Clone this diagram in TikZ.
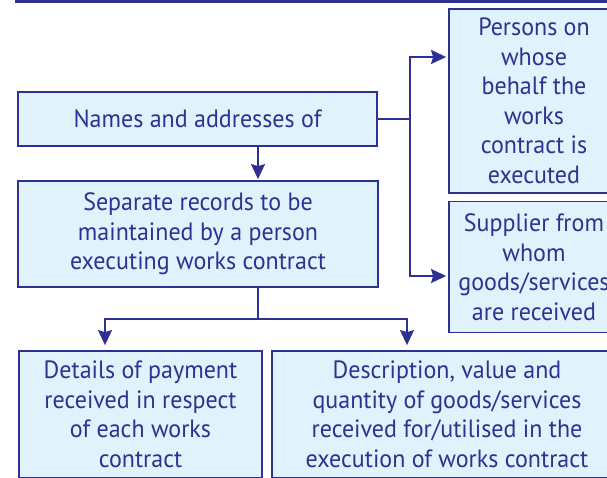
\documentclass[tikz,border=0pt]{standalone}
\usepackage{fontspec}
\setmainfont{PT Sans}[FakeStretch=0.96]
\usetikzlibrary{arrows.meta}
\definecolor{navy}{RGB}{46,49,146}
\definecolor{paleblue}{RGB}{224,242,251}

\begin{document}
\begin{tikzpicture}[x=1pt,y=-1pt,
  rec/.style={draw=navy,line width=1.8pt,fill=paleblue,text=navy,inner sep=0pt,align=center,font=\fontsize{25}{29.5}\selectfont},
  arr/.style={-{Stealth[length=15pt,width=14pt,inset=2pt]},draw=navy,line width=1.8pt},
  link/.style={draw=navy,line width=1.8pt}
]
\useasboundingbox (0,0) rectangle (607,477);
\clip (0,0) rectangle (607,477);
\fill[navy] (15,-3) rectangle (610,3);
\node[rec,minimum width=359pt,minimum height=54pt] (names) at (197.5,119) {Names and addresses of};
\node[rec,minimum width=360pt,minimum height=106pt] (sep) at (198,234) {Separate records to be\\maintained by a person\\executing works contract};
\node[rec,minimum width=170pt,minimum height=184pt] (persons) at (534,101) {Persons on\\whose\\behalf the\\works\\contract is\\executed};
\node[rec,minimum width=170pt,minimum height=131pt] (supplier) at (534,267) {Supplier from\\whom\\goods/services\\are received};
\node[rec,minimum width=243pt,minimum height=127pt] (details) at (140.5,414.5) {Details of payment\\received in respect\\of each works\\contract};
\node[rec,minimum width=350pt,minimum height=127pt] (descr) at (447,414.5) {Description, value and\\quantity of goods/services\\received for/utilised in the\\execution of works contract};
\coordinate (trunk) at (258,319);
\coordinate (lft) at (105,319);
\coordinate (rgt) at (407,319);
\coordinate (fork) at (410,119);
\coordinate (up) at (410,57);
\coordinate (down) at (410,276);
\draw[arr,shorten >=1pt] (names.south -| trunk) -- (sep.north -| trunk);
\draw[link] (sep.south -| trunk) -- (trunk);
\draw[arr,shorten >=5pt] (trunk) -- (lft) -- (details.north -| lft);
\draw[arr,shorten >=5pt] (trunk) -- (rgt) -- (descr.north -| rgt);
\draw[link] (names.east) -- (fork);
\draw[arr,shorten >=2pt] (fork) -- (up) -- (persons.west |- up);
\draw[arr,shorten >=2pt] (fork) -- (down) -- (supplier.west |- down);
\end{tikzpicture}
\end{document}
